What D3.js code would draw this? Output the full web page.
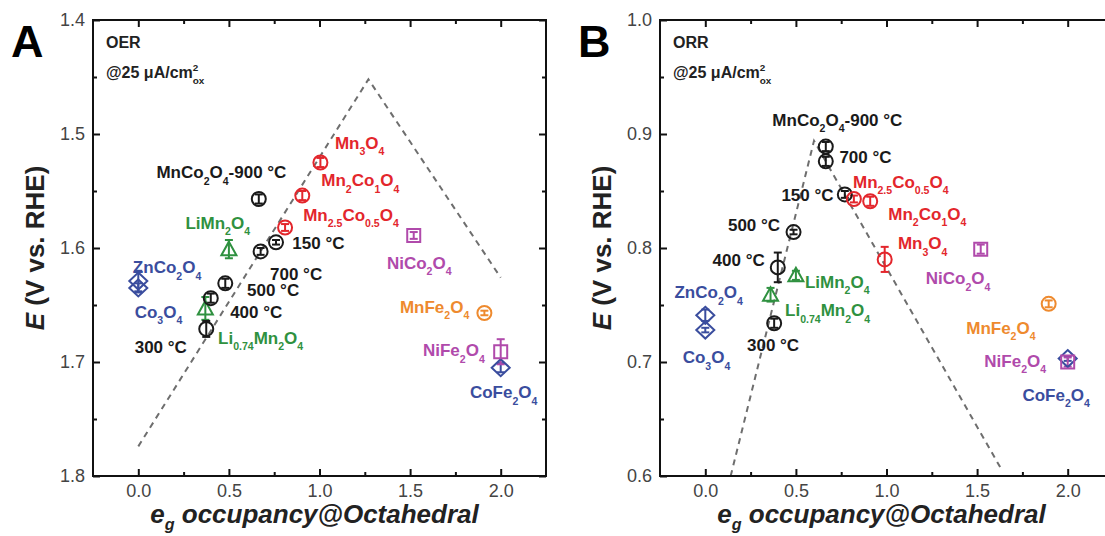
<!DOCTYPE html>
<html>
<head>
<meta charset="utf-8">
<script src="https://cdn.jsdelivr.net/npm/d3@7"></script>
<style>
  html, body { margin: 0; padding: 0; background: #fff; }
  svg { display: block; font-family: "Liberation Sans", Arial, sans-serif; }
</style>
</head>
<body>
<div id="visualization"></div>
<script>
// --- Data ---
const X_MAJOR_TICKS = [0, 0.5, 1.0, 1.5, 2.0];
const X_MINOR_TICKS = [0.25, 0.75, 1.25, 1.75];
const OER_Y_MAJOR = [1.4, 1.5, 1.6, 1.7, 1.8];
const OER_Y_MINOR = [1.45, 1.55, 1.65, 1.75];
const ORR_Y_MAJOR = [0.6, 0.7, 0.8, 0.9, 1.0];
const ORR_Y_MINOR = [0.65, 0.75, 0.85, 0.95];

// group: MnCo (black circle), Mn (red circle), Li (green triangle),
// Co (blue diamond), Ni (purple square), MnFe (orange circle)
const oerPoints = [
  { name: "ZnCo2O4", occ: 0.0, e: 1.629, err: 0.009, group: "Co" },
  { name: "Co3O4", occ: 0.0, e: 1.635, err: 0.004, group: "Co" },
  { name: "Li0.74Mn2O4", occ: 0.37, e: 1.653, err: 0.010, group: "Li" },
  { name: "LiMn2O4", occ: 0.50, e: 1.601, err: 0.008, group: "Li" },
  { name: "300", occ: 0.375, e: 1.671, err: 0.007, group: "MnCo" },
  { name: "400", occ: 0.40, e: 1.644, err: 0.004, group: "MnCo" },
  { name: "500", occ: 0.48, e: 1.631, err: 0.004, group: "MnCo" },
  { name: "700", occ: 0.675, e: 1.603, err: 0.003, group: "MnCo" },
  { name: "150", occ: 0.76, e: 1.595, err: 0.002, group: "MnCo" },
  { name: "900", occ: 0.665, e: 1.557, err: 0.004, group: "MnCo" },
  { name: "Mn2.5Co0.5O4", occ: 0.81, e: 1.582, err: 0.003, group: "Mn" },
  { name: "Mn2Co1O4", occ: 0.905, e: 1.554, err: 0.004, group: "Mn" },
  { name: "Mn3O4", occ: 1.005, e: 1.525, err: 0.004, group: "Mn" },
  { name: "NiCo2O4", occ: 1.52, e: 1.589, err: 0.003, group: "Ni" },
  { name: "MnFe2O4", occ: 1.91, e: 1.657, err: 0.002, group: "MnFe" },
  { name: "CoFe2O4", occ: 2.0, e: 1.705, err: 0.004, group: "Co" },
  { name: "NiFe2O4", occ: 2.0, e: 1.691, err: 0.011, group: "Ni" }
];
const orrPoints = [
  { name: "ZnCo2O4", occ: 0.0, e: 0.741, err: 0.005, group: "Co" },
  { name: "Co3O4", occ: 0.0, e: 0.728, err: 0.002, group: "Co" },
  { name: "Li0.74Mn2O4", occ: 0.36, e: 0.759, err: 0.006, group: "Li" },
  { name: "LiMn2O4", occ: 0.50, e: 0.776, err: 0.004, group: "Li" },
  { name: "300", occ: 0.38, e: 0.734, err: 0.004, group: "MnCo" },
  { name: "400", occ: 0.40, e: 0.783, err: 0.013, group: "MnCo" },
  { name: "500", occ: 0.487, e: 0.814, err: 0.002, group: "MnCo" },
  { name: "700", occ: 0.665, e: 0.876, err: 0.004, group: "MnCo" },
  { name: "150", occ: 0.77, e: 0.847, err: 0.003, group: "MnCo" },
  { name: "900", occ: 0.665, e: 0.889, err: 0.004, group: "MnCo" },
  { name: "Mn2.5Co0.5O4", occ: 0.82, e: 0.843, err: 0.003, group: "Mn" },
  { name: "Mn2Co1O4", occ: 0.91, e: 0.841, err: 0.004, group: "Mn" },
  { name: "Mn3O4", occ: 0.99, e: 0.790, err: 0.011, group: "Mn" },
  { name: "NiCo2O4", occ: 1.52, e: 0.799, err: 0.004, group: "Ni" },
  { name: "MnFe2O4", occ: 1.895, e: 0.751, err: 0.003, group: "MnFe" },
  { name: "CoFe2O4", occ: 2.0, e: 0.703, err: 0.002, group: "Co" },
  { name: "NiFe2O4", occ: 2.0, e: 0.700, err: 0.004, group: "Ni" }
];

// volcano guide lines (dashed)
const oerGuide = [{ occ: 0.0, e: 1.774 }, { occ: 1.27, e: 1.452 }, { occ: 2.0, e: 1.626 }];
const orrGuide = [{ occ: 0.14, e: 0.600 }, { occ: 0.60, e: 0.894 }, { occ: 1.63, e: 0.607 }];

// annotation text, anchored at left baseline in data units
const oerLabels = [
  { text: "MnCo_{2}O_{4}-900 °C", occ: 0.10, e: 1.539, group: "MnCo" },
  { text: "LiMn_{2}O_{4}", occ: 0.26, e: 1.583, group: "Li" },
  { text: "ZnCo_{2}O_{4}", occ: -0.03, e: 1.622, group: "Co" },
  { text: "Co_{3}O_{4}", occ: -0.02, e: 1.661, group: "Co" },
  { text: "300 °C", occ: -0.02, e: 1.692, group: "MnCo" },
  { text: "Li_{0.74}Mn_{2}O_{4}", occ: 0.44, e: 1.684, group: "Li" },
  { text: "400 °C", occ: 0.507, e: 1.661, group: "MnCo" },
  { text: "500 °C", occ: 0.60, e: 1.642, group: "MnCo" },
  { text: "700 °C", occ: 0.727, e: 1.628, group: "MnCo" },
  { text: "150 °C", occ: 0.85, e: 1.601, group: "MnCo" },
  { text: "Mn_{2.5}Co_{0.5}O_{4}", occ: 0.91, e: 1.576, group: "Mn" },
  { text: "Mn_{2}Co_{1}O_{4}", occ: 1.01, e: 1.546, group: "Mn" },
  { text: "Mn_{3}O_{4}", occ: 1.085, e: 1.513, group: "Mn" },
  { text: "NiCo_{2}O_{4}", occ: 1.372, e: 1.618, group: "Ni" },
  { text: "MnFe_{2}O_{4}", occ: 1.444, e: 1.657, group: "MnFe" },
  { text: "NiFe_{2}O_{4}", occ: 1.571, e: 1.695, group: "Ni" },
  { text: "CoFe_{2}O_{4}", occ: 1.83, e: 1.732, group: "Co" }
];
const orrLabels = [
  { text: "MnCo_{2}O_{4}-900 °C", occ: 0.37, e: 0.907, group: "MnCo" },
  { text: "700 °C", occ: 0.74, e: 0.875, group: "MnCo" },
  { text: "150 °C", occ: 0.42, e: 0.841, group: "MnCo" },
  { text: "500 °C", occ: 0.125, e: 0.815, group: "MnCo" },
  { text: "400 °C", occ: 0.04, e: 0.784, group: "MnCo" },
  { text: "LiMn_{2}O_{4}", occ: 0.55, e: 0.765, group: "Li" },
  { text: "Li_{0.74}Mn_{2}O_{4}", occ: 0.44, e: 0.740, group: "Li" },
  { text: "ZnCo_{2}O_{4}", occ: -0.17, e: 0.756, group: "Co" },
  { text: "Co_{3}O_{4}", occ: -0.125, e: 0.699, group: "Co" },
  { text: "300 °C", occ: 0.23, e: 0.710, group: "MnCo" },
  { text: "Mn_{2.5}Co_{0.5}O_{4}", occ: 0.815, e: 0.853, group: "Mn" },
  { text: "Mn_{2}Co_{1}O_{4}", occ: 1.01, e: 0.825, group: "Mn" },
  { text: "Mn_{3}O_{4}", occ: 1.063, e: 0.799, group: "Mn" },
  { text: "NiCo_{2}O_{4}", occ: 1.217, e: 0.768, group: "Ni" },
  { text: "MnFe_{2}O_{4}", occ: 1.44, e: 0.725, group: "MnFe" },
  { text: "NiFe_{2}O_{4}", occ: 1.54, e: 0.696, group: "Ni" },
  { text: "CoFe_{2}O_{4}", occ: 1.75, e: 0.666, group: "Co" }
];

// --- Constants ---
const SVG_WIDTH = 1105;
const SVG_HEIGHT = 536;
const PLOT_TOP = 20;
const PLOT_BOTTOM = 476;
const PLOT_W = 453;
const LABEL_SIZE = 17;
const GROUP_STYLE = {
  MnCo: { color: "#1a1a1a", shape: "circle" },
  Mn: { color: "#e3262c", shape: "circle" },
  Li: { color: "#2f9140", shape: "triangle" },
  Co: { color: "#3a4d9e", shape: "diamond" },
  Ni: { color: "#b04aab", shape: "square" },
  MnFe: { color: "#ee8a2e", shape: "circle" }
};

const PANELS = [
  { letter: "A", left: 93, title: "OER", yDomain: [1.4, 1.8], yMajor: OER_Y_MAJOR, yMinor: OER_Y_MINOR,
    points: oerPoints, guide: oerGuide, labels: oerLabels },
  { letter: "B", left: 660, title: "ORR", yDomain: [1.0, 0.6], yMajor: ORR_Y_MAJOR, yMinor: ORR_Y_MINOR,
    points: orrPoints, guide: orrGuide, labels: orrLabels }
];

// --- Helpers ---
// writes "Mn_{2}O_{4}" / "cm^{2}_{ox}" as tspans with sub/superscripts
function richText(textSel, str, size, subDrop = 0.38) {
  const re = /([_^])\{([^}]*)\}|([^_^]+)/g;
  let m, shift = 0, prevSup = null;
  while ((m = re.exec(str)) !== null) {
    if (m[3]) {
      textSel.append("tspan").attr("dy", -shift).style("font-size", size + "px").text(m[3]);
      shift = 0;
      prevSup = null;
    } else {
      const small = size * 0.62;
      const d = m[1] === "_" ? size * subDrop : -size * 0.42;
      const t = textSel.append("tspan")
        .attr("dy", d - shift)
        .style("font-size", small + "px")
        .text(m[2]);
      if (m[1] === "_" && prevSup) t.attr("dx", -prevSup.length * small * 0.56);
      prevSup = m[1] === "^" ? m[2] : null;
      shift = d;
    }
  }
}

function markerPath(shape) {
  if (shape === "triangle") return "M0,-7.5L7.5,6L-7.5,6Z";
  if (shape === "square") return "M-6.5,-6.5H6.5V6.5H-6.5Z";
  if (shape === "diamond") return "M0,-8.5L9,0L0,8.5L-9,0Z";
  return d3.symbol(d3.symbolCircle, Math.PI * 7 * 7)();
}

// --- Drawing ---
function drawPanel(svg, cfg) {
  const x = d3.scaleLinear().domain([-0.25, 2.25]).range([cfg.left, cfg.left + PLOT_W]);
  const y = d3.scaleLinear().domain(cfg.yDomain).range([PLOT_TOP, PLOT_BOTTOM]);
  const g = svg.append("g");

  // dashed volcano guide
  g.append("path")
    .datum(cfg.guide)
    .attr("fill", "none")
    .attr("stroke", "#6e6e6e")
    .attr("stroke-width", 2)
    .attr("stroke-dasharray", "6,5")
    .attr("d", d3.line().x(d => x(d.occ)).y(d => y(d.e)));

  // axes: ticks point inward on all four sides
  const axes = [
    { ax: d3.axisBottom(x), at: `translate(0,${PLOT_BOTTOM})`, labels: true, vals: [X_MAJOR_TICKS, X_MINOR_TICKS] },
    { ax: d3.axisTop(x), at: `translate(0,${PLOT_TOP})`, labels: false, vals: [X_MAJOR_TICKS, X_MINOR_TICKS] },
    { ax: d3.axisLeft(y), at: `translate(${cfg.left},0)`, labels: true, vals: [cfg.yMajor, cfg.yMinor] },
    { ax: d3.axisRight(y), at: `translate(${cfg.left + PLOT_W},0)`, labels: false, vals: [cfg.yMajor, cfg.yMinor] }
  ];
  axes.forEach(a => {
    const major = g.append("g").attr("transform", a.at)
      .call(a.ax.tickValues(a.vals[0]).tickSize(-7).tickPadding(a.labels ? 8 : 0)
        .tickFormat(a.labels ? d3.format(".1f") : ""));
    major.select(".domain").remove();
    major.selectAll("line").attr("stroke", "#111").attr("stroke-width", 2);
    major.selectAll("text").style("font-size", "18px").attr("fill", "#444");
    const minor = g.append("g").attr("transform", a.at)
      .call(a.ax.tickValues(a.vals[1]).tickSize(-4).tickFormat(""));
    minor.select(".domain").remove();
    minor.selectAll("line").attr("stroke", "#111").attr("stroke-width", 2);
  });

  // frame
  g.append("rect")
    .attr("x", cfg.left).attr("y", PLOT_TOP)
    .attr("width", PLOT_W).attr("height", PLOT_BOTTOM - PLOT_TOP)
    .attr("fill", "none").attr("stroke", "#111").attr("stroke-width", 2);

  // error bars
  const eb = g.append("g").selectAll("g").data(cfg.points).join("g")
    .attr("stroke", d => GROUP_STYLE[d.group].color)
    .attr("stroke-width", 2);
  eb.append("line")
    .attr("x1", d => x(d.occ)).attr("x2", d => x(d.occ))
    .attr("y1", d => y(d.e - d.err)).attr("y2", d => y(d.e + d.err));
  [-1, 1].forEach(s => {
    eb.append("line")
      .attr("x1", d => x(d.occ) - 4).attr("x2", d => x(d.occ) + 4)
      .attr("y1", d => y(d.e + s * d.err)).attr("y2", d => y(d.e + s * d.err));
  });

  // markers
  g.append("g").selectAll("path").data(cfg.points).join("path")
    .attr("transform", d => `translate(${x(d.occ)},${y(d.e)})`)
    .attr("d", d => markerPath(GROUP_STYLE[d.group].shape))
    .attr("fill", "none")
    .attr("stroke", d => GROUP_STYLE[d.group].color)
    .attr("stroke-width", 2);

  // point annotations
  g.append("g").selectAll("text").data(cfg.labels).join("text")
    .attr("x", d => x(d.occ)).attr("y", d => y(d.e))
    .attr("fill", d => GROUP_STYLE[d.group].color)
    .style("font-weight", "bold")
    .each(function (d) { richText(d3.select(this), d.text, LABEL_SIZE); });

  // corner notes
  g.append("text").attr("x", cfg.left + 13).attr("y", 48)
    .style("font-weight", "bold").style("font-size", "16px").attr("fill", "#222")
    .text(cfg.title);
  const cd = g.append("text").attr("x", cfg.left + 13).attr("y", 78)
    .style("font-weight", "bold").attr("fill", "#222");
  richText(cd, "@25 μA/cm^{2}_{ox}", 16);

  // axis titles
  const xt = g.append("text")
    .attr("x", cfg.left + PLOT_W / 2 - 5).attr("y", 523)
    .attr("text-anchor", "middle")
    .style("font-weight", "bold").style("font-style", "italic").attr("fill", "#222");
  richText(xt, "e_{g} occupancy@Octahedral", 26, 0.28);

  const yt = g.append("text")
    .attr("transform", `translate(${cfg.left - 49},${(PLOT_TOP + PLOT_BOTTOM) / 2}) rotate(-90)`)
    .attr("text-anchor", "middle")
    .style("font-weight", "bold").style("font-size", "26px").attr("fill", "#222");
  yt.append("tspan").style("font-style", "italic").text("E");
  yt.append("tspan").text(" (V vs. RHE)");

  // panel letter
  svg.append("text").attr("x", cfg.left - 82).attr("y", 57)
    .style("font-weight", "bold").style("font-size", "45px").attr("fill", "#000")
    .text(cfg.letter);
}

function initPage() {
  const svg = d3.select("#visualization").append("svg")
    .attr("width", SVG_WIDTH).attr("height", SVG_HEIGHT)
    .attr("viewBox", `0 0 ${SVG_WIDTH} ${SVG_HEIGHT}`);
  PANELS.forEach(p => drawPanel(svg, p));
}

document.addEventListener("DOMContentLoaded", initPage);
</script>
</body>
</html>
